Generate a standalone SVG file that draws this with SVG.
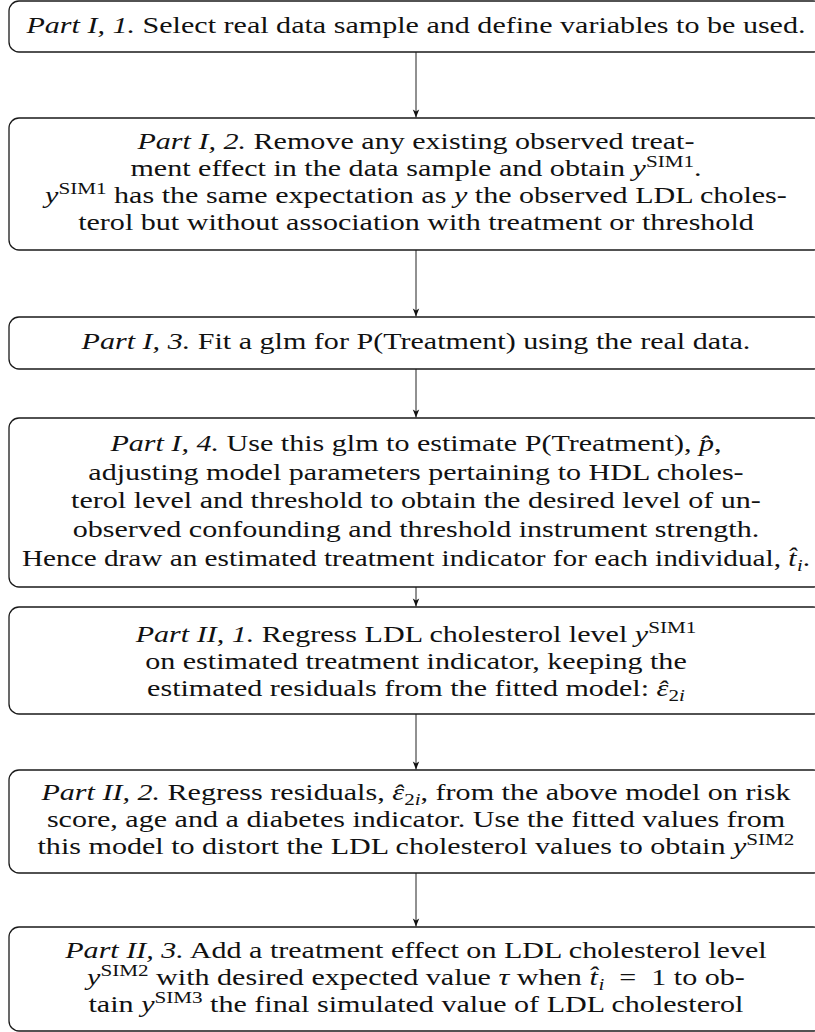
<svg xmlns="http://www.w3.org/2000/svg" width="815" height="1032" viewBox="0 0 815 1032">
<defs>
<marker id="ah" markerWidth="10" markerHeight="10" refX="0" refY="0" viewBox="-9 -5 10 10" orient="auto" markerUnits="userSpaceOnUse">
<path d="M0,0 L-8,-3.2 L-6,0 L-8,3.2 Z" fill="#111"/>
</marker>
</defs>
<style>
.box{fill:#fff;stroke:#1a1a1a;stroke-width:1.3}
.t{font-family:"Liberation Serif","Times New Roman",serif;font-size:23.5px;fill:#111;text-anchor:middle}
.i{font-style:italic}
.s{font-size:16.5px}
.conn line{stroke:#222;stroke-width:1;marker-end:url(#ah)}
</style>
<rect width="815" height="1032" fill="#fff"/>
<g class="conn">
<line x1="416" y1="52" x2="416" y2="117.5"/>
<line x1="416" y1="250" x2="416" y2="316.5"/>
<line x1="416" y1="369" x2="416" y2="417.5"/>
<line x1="416" y1="587" x2="416" y2="606.5"/>
<line x1="416" y1="714" x2="416" y2="769.5"/>
<line x1="416" y1="873" x2="416" y2="926.5"/>
</g>
<g id="n1">
<rect class="box" x="9" y="1" width="814" height="51" rx="10"/>
<g transform="matrix(1.28,0,0,1,-116.5,0)">
<text class="t" x="416" y="33"><tspan class="i">Part I, 1.</tspan> Select real data sample and define variables to be used.</text>
</g>
</g>
<g id="n2">
<rect class="box" x="9" y="118" width="814" height="132" rx="10"/>
<g transform="matrix(1.28,0,0,1,-116.5,0)">
<text class="t" x="416" y="149"><tspan class="i">Part I, 2.</tspan> Remove any existing observed treat-</text>
<text class="t" x="416" y="176">ment effect in the data sample and obtain <tspan class="i">y</tspan><tspan class="s" dy="-9">SIM1</tspan><tspan dy="9">.</tspan></text>
<text class="t" x="416" y="203"><tspan class="i">y</tspan><tspan class="s" dy="-9">SIM1</tspan><tspan dy="9"> has the same expectation as </tspan><tspan class="i">y</tspan> the observed LDL choles-</text>
<text class="t" x="416" y="230">terol but without association with treatment or threshold</text>
</g>
</g>
<g id="n3">
<rect class="box" x="9" y="317" width="814" height="52" rx="10"/>
<g transform="matrix(1.28,0,0,1,-116.5,0)">
<text class="t" x="416" y="349"><tspan class="i">Part I, 3.</tspan> Fit a glm for P(Treatment) using the real data.</text>
</g>
</g>
<g id="n4">
<rect class="box" x="9" y="418" width="814" height="169" rx="10"/>
<g transform="matrix(1.28,0,0,1,-116.5,0)">
<text class="t" x="416" y="451.5"><tspan class="i">Part I, 4.</tspan> Use this glm to estimate P(Treatment), <tspan class="i">p̂</tspan>,</text>
<text class="t" x="416" y="480">adjusting model parameters pertaining to HDL choles-</text>
<text class="t" x="416" y="508.5">terol level and threshold to obtain the desired level of un-</text>
<text class="t" x="416" y="537">observed confounding and threshold instrument strength.</text>
</g>
<g transform="matrix(1.245,0,0,1,-101.9,0)">
<text class="t" x="416" y="566">Hence draw an estimated treatment indicator for each individual, <tspan class="i">t̂</tspan><tspan class="s i" dx="0.5" dy="5">i</tspan><tspan dy="-5">.</tspan></text>
</g>
</g>
<g id="n5">
<rect class="box" x="9" y="607" width="814" height="107" rx="10"/>
<g transform="matrix(1.28,0,0,1,-116.5,0)">
<text class="t" x="416" y="642"><tspan class="i">Part II, 1.</tspan> Regress LDL cholesterol level <tspan class="i">y</tspan><tspan class="s" dy="-9">SIM1</tspan></text>
<text class="t" x="416" y="669">on estimated treatment indicator, keeping the</text>
<text class="t" x="416" y="696">estimated residuals from the fitted model:  <tspan class="i">ε</tspan><tspan class="i" dx="-8.6" dy="1">ˆ</tspan><tspan class="s" dx="0.8" dy="4">2</tspan><tspan class="s i">i</tspan></text>
</g>
</g>
<g id="n6">
<rect class="box" x="9" y="770" width="814" height="103" rx="10"/>
<g transform="matrix(1.28,0,0,1,-116.5,0)">
<text class="t" x="416" y="800.5"><tspan class="i">Part II, 2.</tspan> Regress residuals, <tspan class="i">ε</tspan><tspan class="i" dx="-8.6" dy="1">ˆ</tspan><tspan class="s" dx="0.8" dy="4">2</tspan><tspan class="s i">i</tspan><tspan dy="-5">, from the above model on risk</tspan></text>
<text class="t" x="416" y="827.5">score, age and a diabetes indicator. Use the fitted values from</text>
<text class="t" x="416" y="854.5">this model to distort the LDL cholesterol values to obtain <tspan class="i">y</tspan><tspan class="s" dy="-9">SIM2</tspan></text>
</g>
</g>
<g id="n7">
<rect class="box" x="9" y="927" width="814" height="104" rx="10"/>
<g transform="matrix(1.28,0,0,1,-116.5,0)">
<text class="t" x="416" y="958"><tspan class="i">Part II, 3.</tspan> Add a treatment effect on LDL cholesterol level</text>
<text class="t" x="416" y="985"><tspan class="i">y</tspan><tspan class="s" dy="-9">SIM2</tspan><tspan dy="9"> with desired expected value </tspan><tspan class="i">τ</tspan> when <tspan class="i">t̂</tspan><tspan class="s i" dx="0.5" dy="5">i</tspan><tspan dy="-5"> &#160;= &#160;1 to ob-</tspan></text>
<text class="t" x="416" y="1012">tain <tspan class="i">y</tspan><tspan class="s" dy="-9">SIM3</tspan><tspan dy="9"> the final simulated value of LDL cholesterol</tspan></text>
</g>
</g>
</svg>
